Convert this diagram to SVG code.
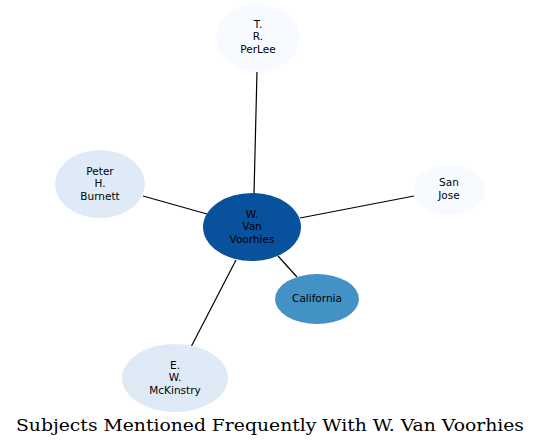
<svg xmlns="http://www.w3.org/2000/svg" width="541" height="447" viewBox="0 0 541 447">
<style>
.n text{font-family:"DejaVu Sans",sans-serif;font-size:10.5px;text-anchor:middle;fill:#000}
.e line{stroke:#000;stroke-width:1.2}
.t{font-family:"DejaVu Serif",serif;font-size:16px;fill:#000}
</style>
<rect width="541" height="447" fill="#fff"/>
<g id="edges" class="e">
<line x1="254" y1="194" x2="257" y2="71"/>
<line x1="143" y1="196" x2="207" y2="214"/>
<line x1="300" y1="218" x2="414" y2="196"/>
<line x1="278" y1="256" x2="297" y2="277"/>
<line x1="236" y1="260" x2="191" y2="347"/>
</g>
<g id="perlee" class="n"><ellipse cx="258" cy="38" rx="42" ry="34" fill="#f7fbff"/><text x="258" y="28">T.</text><text x="258" y="40">R.</text><text x="258" y="53">PerLee</text></g>
<g id="vanvoorhies" class="n"><ellipse cx="252" cy="227" rx="49" ry="34" fill="#08519c"/><text x="252" y="218">W.</text><text x="252" y="230">Van</text><text x="252" y="243">Voorhies</text></g>
<g id="burnett" class="n"><ellipse cx="100" cy="184" rx="45" ry="34" fill="#deebf7"/><text x="100" y="175">Peter</text><text x="100" y="187">H.</text><text x="100" y="200">Burnett</text></g>
<g id="sanjose" class="n"><ellipse cx="449" cy="190" rx="36" ry="25" fill="#f7fbff"/><text x="449" y="186">San</text><text x="449" y="199">Jose</text></g>
<g id="california" class="n"><ellipse cx="317" cy="299" rx="42" ry="25" fill="#4292c6"/><text x="317" y="302">California</text></g>
<g id="mckinstry" class="n"><ellipse cx="175" cy="378" rx="53" ry="34" fill="#deebf7"/><text x="175" y="369">E.</text><text x="175" y="381">W.</text><text x="175" y="394">McKinstry</text></g>
<text class="t" x="16" y="431" textLength="508" lengthAdjust="spacingAndGlyphs">Subjects Mentioned Frequently With W. Van Voorhies</text>
</svg>
